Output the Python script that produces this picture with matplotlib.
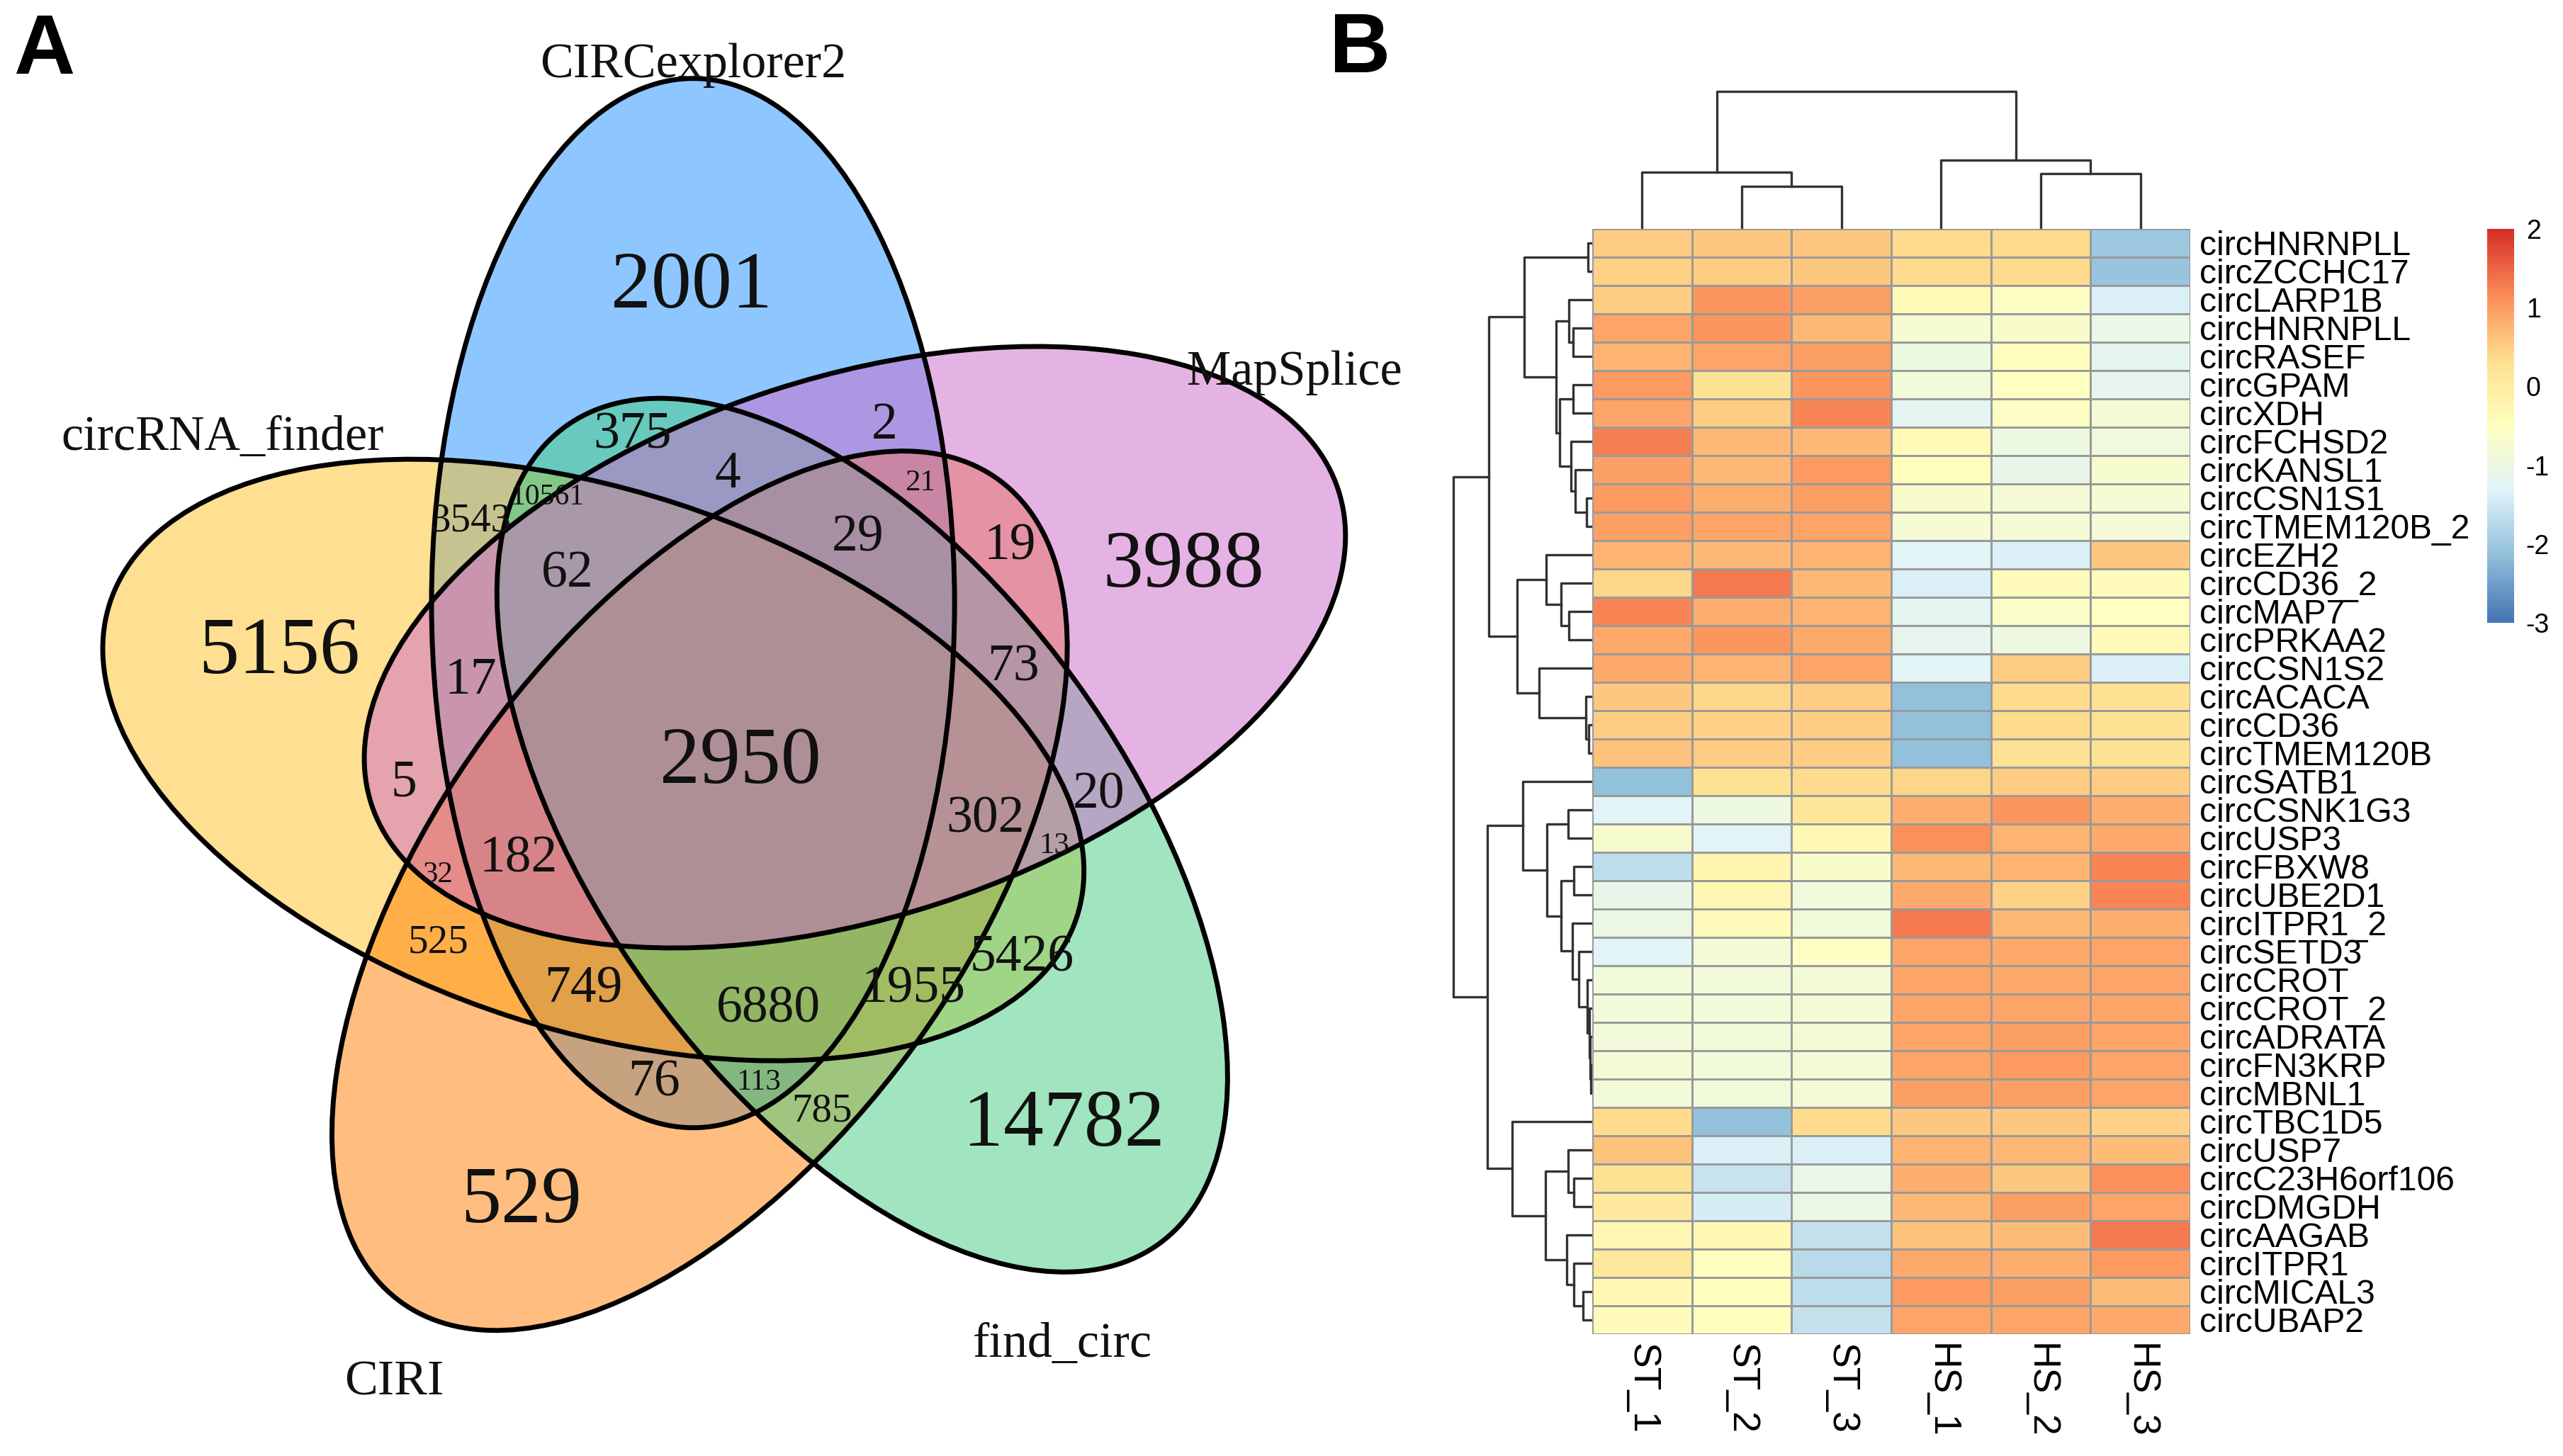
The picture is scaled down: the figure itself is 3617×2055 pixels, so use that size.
import matplotlib
matplotlib.use('Agg')
import matplotlib.pyplot as plt
import matplotlib.colors as mcolors
from matplotlib.patches import Ellipse
from matplotlib.transforms import ScaledTranslation
import numpy as np

W, H = 3617, 2055
K = W / 1568  # venn positions were read at 1568 wide

# venn
set_names = ['CIRCexplorer2', 'circRNA_finder', 'CIRI', 'find_circ', 'MapSplice']
set_colors = ['#1E90FF', '#FFC125', '#FF7F00', '#43CD80', '#CD69C9']
venn_counts = ['2001', '5156', '529', '14782', '3988', '2950',
               '375', '2', '4', '62', '29', '19', '73', '17', '5', '182',
               '749', '76', '6880', '1955', '5426', '302', '20',
               '525', '785', '3543',
               '21', '32', '113', '13', '10561']

# heatmap
samples = ['ST_1', 'ST_2', 'ST_3', 'HS_1', 'HS_2', 'HS_3']
genes = ['circHNRNPLL', 'circZCCHC17', 'circLARP1B', 'circHNRNPLL', 'circRASEF', 'circGPAM',
         'circXDH', 'circFCHSD2', 'circKANSL1', 'circCSN1S1', 'circTMEM120B_2', 'circEZH2',
         'circCD36_2', 'circMAP7', 'circPRKAA2', 'circCSN1S2', 'circACACA', 'circCD36',
         'circTMEM120B', 'circSATB1', 'circCSNK1G3', 'circUSP3', 'circFBXW8', 'circUBE2D1',
         'circITPR1_2', 'circSETD3', 'circCROT', 'circCROT_2', 'circADRATA', 'circFN3KRP',
         'circMBNL1', 'circTBC1D5', 'circUSP7', 'circC23H6orf106', 'circDMGDH', 'circAAGAB',
         'circITPR1', 'circMICAL3', 'circUBAP2']
values = np.array([
    [.5, .55, .55, .35, .35, -2.05],
    [.45, .5, .55, .35, .35, -2.1],
    [.5, 1.05, .95, -.4, -.6, -1.35],
    [.9, 1.05, .7, -.8, -.7, -1.1],
    [.75, .9, .95, -1.0, -.5, -1.25],
    [1.0, .3, 1.05, -.9, -.55, -1.2],
    [.9, .5, 1.2, -1.25, -.6, -.85],
    [1.25, .7, .7, -.4, -1.0, -.95],
    [.95, .7, 1.0, -.5, -1.15, -.75],
    [1.0, .8, .95, -.7, -.85, -.8],
    [.95, .9, .9, -.8, -.85, -.85],
    [.75, .7, .75, -1.3, -1.35, .55],
    [.4, 1.35, .7, -1.4, -.45, -.45],
    [1.2, .8, .75, -1.25, -.65, -.55],
    [.85, 1.05, .85, -1.2, -1.0, -.4],
    [.85, .75, .9, -1.3, .5, -1.35],
    [.55, .4, .5, -2.15, .35, .3],
    [.5, .45, .5, -2.15, .35, .3],
    [.6, .5, .5, -2.15, .25, .25],
    [-2.15, .25, .35, .4, .5, .5],
    [-1.3, -1, .15, .8, 1.05, .8],
    [-.75, -1.3, -.35, 1.1, .75, .85],
    [-1.7, -.2, -.7, .7, .75, 1.2],
    [-1.15, -.3, -.95, .85, .45, 1.2],
    [-1.05, -.45, -.9, 1.3, .7, .8],
    [-1.3, -.85, -.6, .9, .85, .9],
    [-.9, -.9, -.85, .9, .85, .9],
    [-.9, -.9, -.85, .9, .9, .9],
    [-.9, -.9, -.85, .9, .95, .9],
    [-.85, -.9, -.85, .9, 1.0, .9],
    [-.9, -.9, -.85, .95, .95, .9],
    [.35, -2.15, .35, .55, .55, .45],
    [.6, -1.35, -1.4, .75, .7, .65],
    [.25, -1.55, -1.1, .8, .55, 1.1],
    [.05, -1.45, -1.05, .7, .95, .9],
    [-.3, -.35, -1.6, .6, .65, 1.35],
    [.1, -.5, -1.75, .85, .8, 1.0],
    [-.3, -.5, -1.7, 1.0, .95, .65],
    [-.45, -.5, -1.6, .9, .9, .85],
])

# dendrograms: (height, left, right), a leaf is its row/column number
col_tree = (194, (80, 0, (60, 1, 2)), (97, 3, (78, 4, 5)))
row_tree = (196,
            (146,
             (96,
              (6, 0, 1),
              (51,
               (33, 2, (27, 3, 4)),
               (46,
                (27, 5, 6),
                (30, 7, (24, 8, (8, 9, 10)))))),
             (106,
              (65, 11, (44, 12, (33, 13, 14))),
              (75, 15, (9, 16, (5, 17, 18))))),
            (148,
             (98,
              19,
              (64,
               (34, 20, 21),
               (44,
                (26, 22, 23),
                (28, 24, (19, 25, (7, 26, (4, 27, (3, 28, (2, 29, 30))))))))),
             (113,
              31,
              (66,
               (34, 32, (26, 33, 34)),
               (36, 35, (26, 36, (13, 37, 38)))))))

plt.rcParams['font.family'] = 'Liberation Sans'
fig = plt.figure(figsize=(W / 100, H / 100), dpi=100)


def px_axes(x0, y0, x1, y1):
    return fig.add_axes([x0 / W, 1 - y1 / H, (x1 - x0) / W, (y1 - y0) / H])


# panel A
ax = px_axes(0, 0, W, H)
ax.set_xlim(0, W)
ax.set_ylim(H, 0)
ax.axis('off')

centers = [(424, 369), (363, 465), (428, 545), (527.5, 511), (523, 396)]
angles = [90, 18, -54, 54, -18]
long_axes = [642, 622, 622, 618, 622]
short_axes = [320, 330, 324, 322, 330]
for c, a, l, s, col in zip(centers, angles, long_axes, short_axes, set_colors):
    ax.add_patch(Ellipse((c[0] * K, c[1] * K), l * K, s * K, angle=a,
                         facecolor=col, alpha=0.5, edgecolor='none', zorder=1))
for c, a, l, s in zip(centers, angles, long_axes, short_axes):
    ax.add_patch(Ellipse((c[0] * K, c[1] * K), l * K, s * K, angle=a,
                         facecolor='none', edgecolor='black', linewidth=5, zorder=2))

name_pos = [(424, 37), (136, 265), (241, 843), (650, 820), (792, 225)]
for n, p in zip(set_names, name_pos):
    ax.text(p[0] * K, p[1] * K + 7, n, ha='center', va='center', fontsize=50.5,
            family='Liberation Serif', color='#111111')

count_pos = [(423, 172), (171, 396), (319, 732), (651, 685), (724, 343), (453, 463),
             (387, 264), (541, 258), (445, 288), (347, 349), (525, 327), (618, 332),
             (620, 406), (288, 414), (247, 477), (317, 523), (357, 603), (400, 660),
             (470, 615), (559, 603), (625, 584), (603, 499), (672, 484),
             (268, 575), (503, 678), (288, 317),
             (563, 294), (268, 534), (464, 661), (645, 516), (335, 303)]
count_size = [82] * 6 + [53] * 17 + [41] * 3 + [31] * 4 + [30]
for t, p, s in zip(venn_counts, count_pos, count_size):
    ax.text(p[0] * K, p[1] * K + s * 0.11, t, ha='center', va='center', fontsize=s,
            family='Liberation Serif', color='#111111', zorder=3)

ax.text(27 * K, 32 * K, 'A', ha='center', va='center', fontsize=86, fontweight='bold')
ax.text(832 * K, 31 * K, 'B', ha='center', va='center', fontsize=86, fontweight='bold')

# panel B heatmap
cmap = mcolors.LinearSegmentedColormap.from_list(
    'pheatmap', ['#4575B4', '#91BFDB', '#E0F3F8', '#FFFFBF', '#FEE090', '#FC8D59', '#D73027'], N=100)
hm_x0, hm_y0, hm_x1, hm_y1 = 2247, 323, 3091, 1883
ax_hm = px_axes(hm_x0, hm_y0, hm_x1, hm_y1)
ax_hm.pcolormesh(values, cmap=cmap, vmin=-3, vmax=2, edgecolors='#9a9a9a', linewidth=2.0)
ax_hm.set_xlim(0, len(samples))
ax_hm.set_ylim(len(genes), 0)
ax_hm.set_xticks(np.arange(len(samples)) + 0.5)
ax_hm.set_xticklabels(samples, rotation=-90, fontsize=38.5, va='top', ha='center')
ax_hm.xaxis.tick_bottom()
ax_hm.yaxis.tick_right()
ax_hm.set_yticks(np.arange(len(genes)) + 0.5)
ax_hm.set_yticklabels(genes, fontsize=34.6, va='center', ha='left')
ax_hm.tick_params(length=0, axis='x', pad=9)
ax_hm.tick_params(length=0, axis='y', pad=9)
label_shift = ScaledTranslation(0, -4 / 100, fig.dpi_scale_trans)
for lab in ax_hm.get_yticklabels():
    lab.set_transform(lab.get_transform() + label_shift)
for s in ax_hm.spines.values():
    s.set_visible(False)


def draw_tree(a, node, horizontal):
    # returns leaf position and height of the node
    if not isinstance(node, tuple):
        return node + 0.5, 0
    h, left, right = node
    p1, h1 = draw_tree(a, left, horizontal)
    p2, h2 = draw_tree(a, right, horizontal)
    xs = [h1, h, h, h2]
    ys = [p1, p1, p2, p2]
    if horizontal:
        a.plot(ys, xs, color='#333333', lw=2.4, solid_capstyle='projecting')
    else:
        a.plot(xs, ys, color='#333333', lw=2.4, solid_capstyle='projecting')
    return (p1 + p2) / 2, h


ax_top = px_axes(hm_x0, 120, hm_x1, hm_y0)
draw_tree(ax_top, col_tree, True)
ax_top.set_xlim(0, len(samples))
ax_top.set_ylim(0, hm_y0 - 120)
ax_top.axis('off')

ax_left = px_axes(2040, hm_y0, hm_x0, hm_y1)
draw_tree(ax_left, row_tree, False)
ax_left.set_xlim(hm_x0 - 2040, 0)
ax_left.set_ylim(len(genes), 0)
ax_left.axis('off')

# colorbar
ax_cb = px_axes(3510, 323, 3548, 879)
ax_cb.imshow(np.linspace(2, -3, 100).reshape(-1, 1), aspect='auto', cmap=cmap, vmin=-3, vmax=2,
             extent=[0, 1, -3, 2])
ax_cb.set_xticks([])
ax_cb.yaxis.tick_right()
ax_cb.set_yticks([-3, -2, -1, 0, 1, 2])
ax_cb.set_yticklabels(['-3', '-2', '-1', '0', '1', '2'], fontsize=27)
ax_cb.tick_params(length=0, pad=12)
for s in ax_cb.spines.values():
    s.set_visible(False)

fig.savefig('out.png', dpi=100)
